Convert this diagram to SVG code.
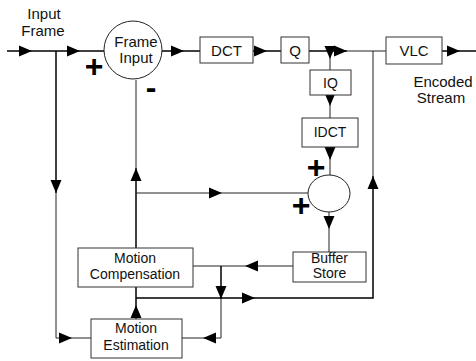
<svg xmlns="http://www.w3.org/2000/svg" width="476" height="361" viewBox="0 0 476 361">
<style>
.box{fill:#fff;stroke:#333;stroke-width:1}
.ln{fill:none;stroke:#000;stroke-width:1.5}
.tn{fill:none;stroke:#222;stroke-width:1}
.t{font-family:"Liberation Sans",Arial,sans-serif;font-size:14px;fill:#111;text-anchor:middle}
.tl{font-family:"Liberation Sans",Arial,sans-serif;font-size:15px;fill:#111;text-anchor:middle}
.sg{font-family:"Liberation Sans",Arial,sans-serif;font-size:32px;font-weight:bold;fill:#000;text-anchor:middle}
</style>
<defs>
<polygon id="ah" points="0,0 -13,-5.5 -13,5.5" fill="#000"/>
</defs>
<g id="connectors">
<path class="ln" d="M7,51 H104"/>
<path class="ln" d="M56,51 V193"/>
<path class="tn" d="M56,193 V338 H91"/>
<path class="ln" d="M161,51 H200"/>
<path class="ln" d="M253,51 H281"/>
<path class="ln" d="M309,51 H347"/>
<path class="tn" d="M347,51 H386"/>
<path class="tn" d="M330,51 V70"/>
<path class="tn" d="M330,95 V118"/>
<path class="tn" d="M330,147 V175"/>
<path class="tn" d="M329,212 V252"/>
<path class="ln" d="M442,51 H476"/>
<path class="tn" d="M373,51 V176"/>
<path class="ln" d="M373,176 V298 H136"/>
<path class="tn" d="M136,80 V168"/>
<path class="ln" d="M136,168 V248"/>
<path class="tn" d="M136,193 H308"/>
<path class="tn" d="M293,266 H193"/>
<path class="ln" d="M221,266 V299"/>
<path class="tn" d="M221,299 V338 H182"/>
<path class="ln" d="M136,319 V287"/>
<use href="#ah" transform="translate(32,51)"/>
<use href="#ah" transform="translate(80,51)"/>
<use href="#ah" transform="translate(56,193) rotate(90)"/>
<use href="#ah" transform="translate(72,338)"/>
<use href="#ah" transform="translate(184,51)"/>
<use href="#ah" transform="translate(267,51)"/>
<use href="#ah" transform="translate(347,51)"/>
<use href="#ah" transform="translate(330,59) rotate(90)"/>
<use href="#ah" transform="translate(330,106) rotate(90)"/>
<use href="#ah" transform="translate(330,160) rotate(90)"/>
<use href="#ah" transform="translate(329,229) rotate(90)"/>
<use href="#ah" transform="translate(460,51)"/>
<use href="#ah" transform="translate(373,176) rotate(-90)"/>
<use href="#ah" transform="translate(255,298)"/>
<use href="#ah" transform="translate(136,168) rotate(-90)"/>
<use href="#ah" transform="translate(222,193)"/>
<use href="#ah" transform="translate(245,266) rotate(180)"/>
<use href="#ah" transform="translate(221,299) rotate(90)"/>
<use href="#ah" transform="translate(203,338) rotate(180)"/>
<use href="#ah" transform="translate(136,305) rotate(-90)"/>
</g>
<g id="input-label">
<text class="tl" x="44" y="19">Input</text>
<text class="tl" x="43" y="36">Frame</text>
</g>
<g id="frame-input">
<circle cx="133" cy="50" r="29" fill="#fff" stroke="#222" stroke-width="1"/>
<text class="tl" x="136" y="47">Frame</text>
<text class="tl" x="136" y="63">Input</text>
<text class="sg" x="94" y="77">+</text>
<text class="sg" x="151" y="98">-</text>
</g>
<g id="dct">
<rect class="box" x="200" y="37" width="53" height="26"/>
<text class="tl" x="226.5" y="55.5">DCT</text>
</g>
<g id="q">
<rect class="box" x="281" y="37" width="28" height="26"/>
<text class="tl" x="295" y="55.5">Q</text>
</g>
<g id="vlc">
<rect class="box" x="386" y="37" width="56" height="27"/>
<text class="tl" x="414" y="56">VLC</text>
</g>
<g id="encoded-label">
<text class="tl" x="443" y="87">Encoded</text>
<text class="tl" x="441" y="103">Stream</text>
</g>
<g id="iq">
<rect class="box" x="310" y="70" width="41" height="25"/>
<text class="t" x="330.5" y="87.5">IQ</text>
</g>
<g id="idct">
<rect class="box" x="302" y="118" width="56" height="29"/>
<text class="t" x="330" y="137">IDCT</text>
</g>
<g id="adder">
<ellipse cx="329" cy="193.5" rx="21" ry="18.5" fill="#fff" stroke="#222" stroke-width="1"/>
<text class="sg" x="316" y="178">+</text>
<text class="sg" x="301" y="216">+</text>
</g>
<g id="motion-compensation">
<rect class="box" x="78" y="248" width="115" height="39"/>
<text class="t" x="135" y="263">Motion</text>
<text class="t" x="135" y="279">Compensation</text>
</g>
<g id="buffer-store">
<rect class="box" x="293" y="252" width="73" height="30"/>
<text class="t" x="329.5" y="263">Buffer</text>
<text class="t" x="329.5" y="278">Store</text>
</g>
<g id="motion-estimation">
<rect class="box" x="91" y="319" width="91" height="39"/>
<text class="t" x="136" y="333">Motion</text>
<text class="t" x="136" y="350">Estimation</text>
</g>
</svg>
